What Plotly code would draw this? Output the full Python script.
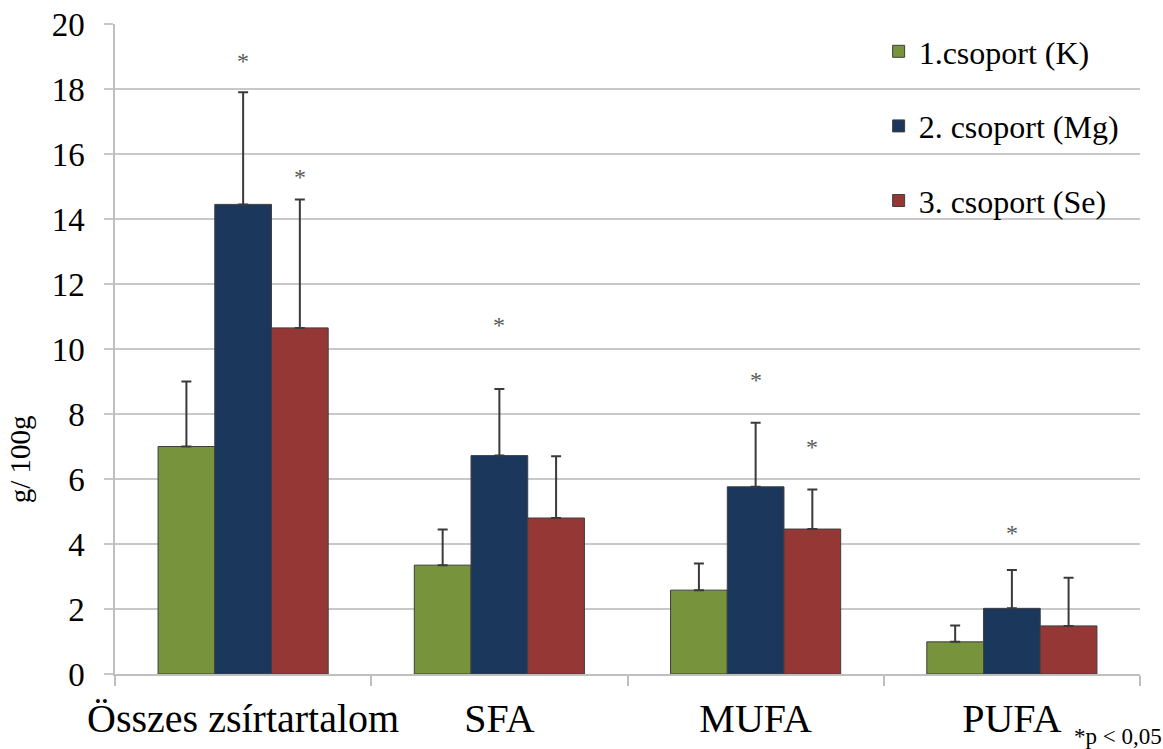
import plotly.graph_objects as go

# Fatty acid content per group (g / 100 g), mean and +SD
categories = ["Összes zsírtartalom", "SFA", "MUFA", "PUFA"]
group_names = ["1.csoport (K)", "2. csoport (Mg)", "3. csoport (Se)"]

k_mean = [7.0, 3.35, 2.58, 0.99]
k_sd = [2.0, 1.1, 0.82, 0.5]

mg_mean = [14.45, 6.72, 5.76, 2.02]
mg_sd = [3.45, 2.05, 1.97, 1.18]

se_mean = [10.65, 4.8, 4.46, 1.48]
se_sd = [3.95, 1.9, 1.22, 1.48]

y_ticks = [0, 2, 4, 6, 8, 10, 12, 14, 16, 18, 20]

# significance markers: (category index, series index, marker height)
sig_marks = [(0, 1, 18.85), (0, 2, 15.3), (1, 1, 10.75), (2, 1, 9.05), (2, 2, 7.0), (3, 1, 4.35)]

colors = ["#77933C", "#1B375C", "#953735"]
means = [k_mean, mg_mean, se_mean]
sds = [k_sd, mg_sd, se_sd]

SERIF = "'Times New Roman', 'Liberation Serif', 'DejaVu Serif', serif"

fig = go.Figure()
for i in range(3):
    fig.add_trace(go.Bar(
        x=categories,
        y=means[i],
        name=group_names[i],
        legendgroup=f"g{i}",
        marker=dict(color=colors[i], line=dict(color="#3F3F3F", width=1)),
        error_y=dict(type="data", array=sds[i], symmetric=False,
                     arrayminus=[0] * len(sds[i]),
                     color="#3A3A3A", thickness=2, width=5),
    ))

bargap = 0.336
bar_w = (1 - bargap) / 3
annotations = []
for ci, si, yv in sig_marks:
    annotations.append(dict(
        x=ci + (si - 1) * bar_w, y=yv, xref="x", yref="y",
        text="*", showarrow=False,
        font=dict(family=SERIF, size=24, color="#595959"),
    ))

# axis title, placed lower than centre
annotations.append(dict(
    x=-0.11, y=0.26, xref="paper", yref="paper",
    text="g/ 100g", textangle=-90, showarrow=False,
    font=dict(family=SERIF, size=29, color="#000000"),
))

# significance note
annotations.append(dict(
    x=1.0, y=0.0, xref="paper", yref="paper",
    xshift=24, yshift=-77,
    xanchor="right", yanchor="bottom",
    text="*p < 0,05", showarrow=False,
    font=dict(family=SERIF, size=23, color="#000000"),
))

fig.update_layout(
    width=1163, height=749,
    margin=dict(l=115, r=23, t=24, b=75, autoexpand=False),
    paper_bgcolor="white", plot_bgcolor="white",
    barmode="group", bargap=bargap, bargroupgap=0,
    font=dict(family=SERIF, color="#000000"),
    showlegend=True,
    legend=dict(
        x=0.745, y=1.0, xanchor="left", yanchor="top",
        bgcolor="rgba(0,0,0,0)",
        font=dict(family=SERIF, size=32, color="#000000"),
        tracegroupgap=30,
    ),
    annotations=annotations,
)

fig.update_xaxes(
    type="category",
    tickson="boundaries",
    automargin=False,
    tickangle=0,
    ticks="outside", ticklen=10, tickcolor="#BFBFBF", tickwidth=1.5,
    ticklabelstandoff=8,
    showline=True, linecolor="#BFBFBF", linewidth=1.5,
    showgrid=False,
    tickfont=dict(family=SERIF, size=40, color="#000000"),
    range=[-0.5, 3.5],
)

fig.update_yaxes(
    range=[0, 20],
    automargin=False,
    tickvals=y_ticks,
    ticks="outside", ticklen=9, tickcolor="#C8C8C8", tickwidth=1.5,
    ticklabelstandoff=13,
    showline=True, linecolor="#BFBFBF", linewidth=1.5,
    showgrid=True, gridcolor="#C8C8C8", gridwidth=1.5,
    zeroline=False,
    tickfont=dict(family=SERIF, size=33, color="#000000"),
)

fig.write_html("out.html")
